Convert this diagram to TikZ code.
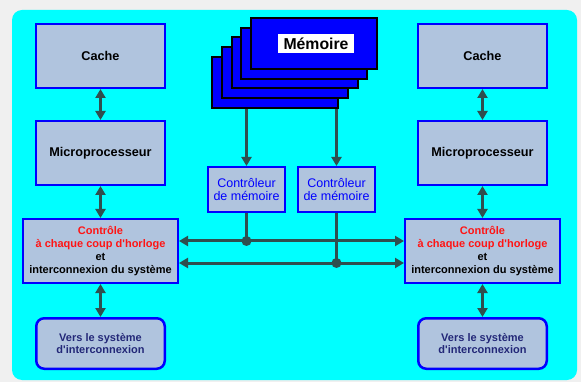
\documentclass[tikz,border=0pt]{standalone}
\usepackage{fontspec}
\setmainfont{Liberation Sans}
\usetikzlibrary{arrows.meta}
\definecolor{pagebg}{RGB}{240,240,240}
\definecolor{panelcol}{RGB}{0,255,255}
\definecolor{boxfill}{RGB}{176,196,222}
\definecolor{wirecol}{RGB}{47,79,79}
\definecolor{navytext}{RGB}{35,40,120}
\definecolor{redtext}{RGB}{255,20,20}
\tikzset{
  cpubox/.style={draw=blue, line width=2pt, fill=boxfill, minimum width=129pt, minimum height=64pt, inner sep=0pt, font=\bfseries\fontsize{12.7}{15}\selectfont},
  ctrlbox/.style={draw=blue, line width=2pt, fill=boxfill, minimum width=155pt, minimum height=64pt, inner sep=0pt, align=center, font=\bfseries\fontsize{11}{13.3}\selectfont},
  mcbox/.style={draw=blue, line width=2pt, fill=boxfill, minimum width=77pt, minimum height=45pt, inner sep=0pt, align=center, text=blue, font=\fontsize{12.5}{13.6}\selectfont},
  versbox/.style={draw=blue, line width=2.5pt, fill=boxfill, rounded corners=8pt, minimum width=128.5pt, minimum height=50.5pt, inner sep=0pt, align=center, text=navytext, font=\bfseries\fontsize{11}{11.5}\selectfont},
  card/.style={draw=black, line width=2pt, fill=blue, minimum width=126pt, minimum height=51pt, inner sep=0pt},
  wire/.style={draw=wirecol, line width=3pt},
  tip/.style={wire, -{Triangle[length=9pt,width=10pt]}},
  dbl/.style={wire, {Triangle[length=9pt,width=10pt]}-{Triangle[length=9pt,width=10pt]}},
  junction/.style={circle, fill=wirecol, minimum size=10pt, inner sep=0pt},
}
\begin{document}
\begin{tikzpicture}[x=1pt,y=-1pt]
\useasboundingbox (0,0) rectangle (581,382);
\fill[pagebg] (0,0) rectangle (581,382);
\fill[panelcol, rounded corners=10pt] (12,10) rectangle (577,380);

% memory stack
\foreach \i in {4,3,2,1,0}
  \node[card] (card\i) at ({314-9.75*\i},{43.5+9.75*\i}) {};
\node[fill=white, minimum width=76pt, minimum height=19pt, inner sep=0pt, font=\bfseries\fontsize{15.8}{18}\selectfont] (memlabel) at (316,43.5) {Mémoire};

% left column
\node[cpubox] (cacheL) at (100.5,56) {Cache};
\node[cpubox] (microL) at (100.5,153) {Microprocesseur};
\node[ctrlbox] (ctrlL) at (100.5,251) {\textcolor{redtext}{Contrôle}\\\textcolor{redtext}{à chaque coup d\textquotesingle horloge}\\et\\interconnexion du système};
\node[versbox] (versL) at (100.5,343.5) {Vers le système\\d\textquotesingle interconnexion};

% right column
\node[cpubox] (cacheR) at (482.5,56) {Cache};
\node[cpubox] (microR) at (482.5,153) {Microprocesseur};
\node[ctrlbox] (ctrlR) at (482.5,251) {\textcolor{redtext}{Contrôle}\\\textcolor{redtext}{à chaque coup d\textquotesingle horloge}\\et\\interconnexion du système};
\node[versbox] (versR) at (482.5,343.5) {Vers le système\\d\textquotesingle interconnexion};

% memory controllers
\node[mcbox] (mc1) at (246.5,189.5) {Contrôleur\\de mémoire};
\node[mcbox] (mc2) at (336.5,189.5) {Contrôleur\\de mémoire};

% vertical links
\draw[dbl] (cacheL.south) -- (microL.north);
\draw[dbl] (microL.south) -- (ctrlL.north);
\draw[dbl] (ctrlL.south) -- (versL.north);
\draw[dbl] (cacheR.south) -- (microR.north);
\draw[dbl] (microR.south) -- (ctrlR.north);
\draw[dbl] (ctrlR.south) -- (versR.north);

% memory to controllers
\draw[tip] (card4.south -| mc1.north) -- (mc1.north);
\draw[tip] (card4.south -| mc2.north) -- (mc2.north);

% buses
\coordinate (bus1) at (0,241);
\coordinate (bus2) at (0,263);
\draw[dbl] (ctrlL.east |- bus1) -- (ctrlR.west |- bus1);
\draw[dbl] (ctrlL.east |- bus2) -- (ctrlR.west |- bus2);
\node[junction] (j1) at (mc1.south |- bus1) {};
\node[junction] (j2) at (mc2.south |- bus2) {};
\draw[wire] (mc1.south) -- (j1.center);
\draw[wire] (mc2.south) -- (j2.center);
\end{tikzpicture}
\end{document}
